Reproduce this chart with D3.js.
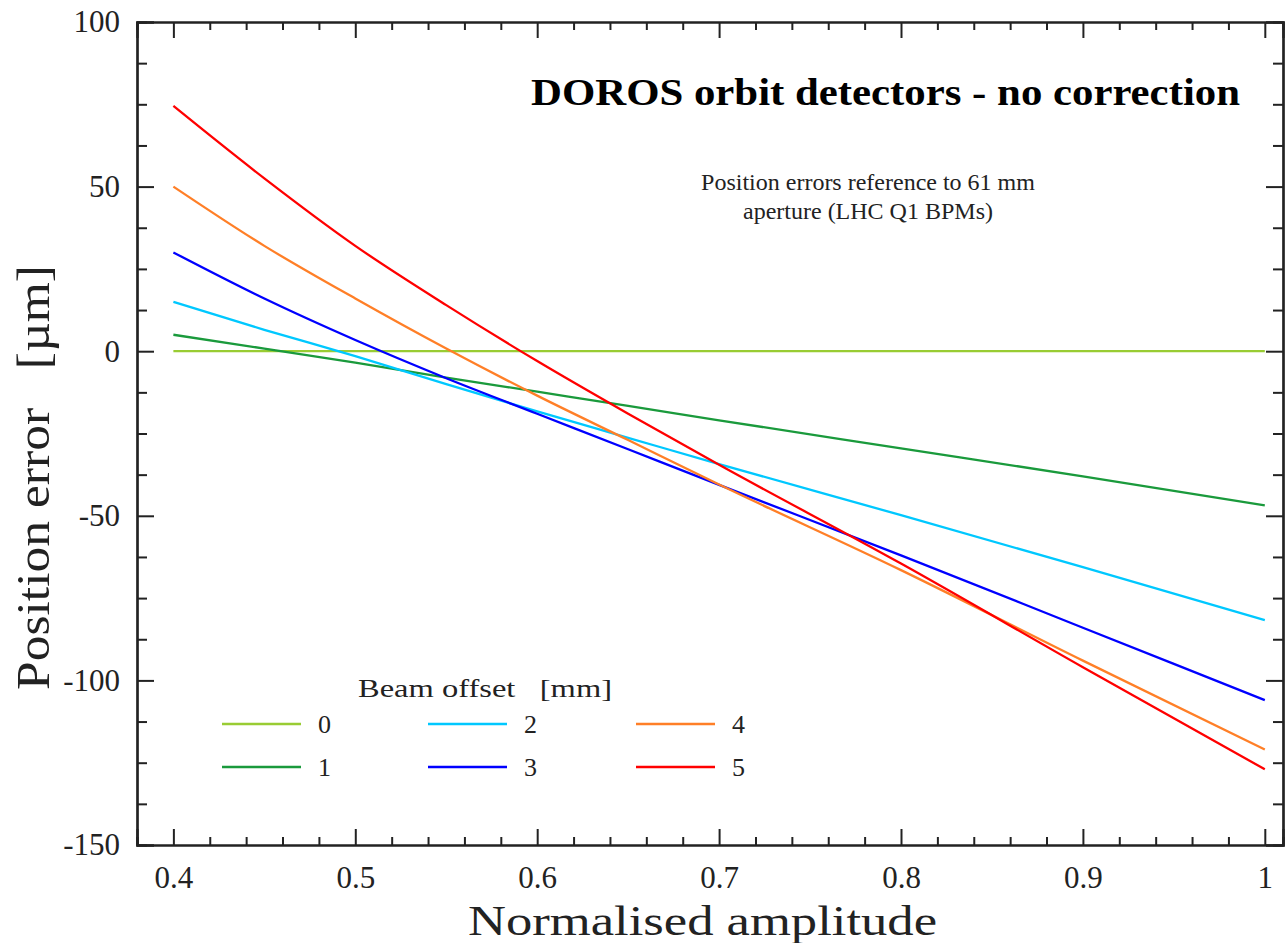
<!DOCTYPE html>
<html>
<head>
<meta charset="utf-8">
<script src="https://cdn.jsdelivr.net/npm/d3@7"></script>
<style>
  body { margin: 0; background: #fff; }
  text { font-family: "Liberation Serif", "Times New Roman", serif; fill: #222; white-space: pre; }
</style>
</head>
<body>
<div id="chart"></div>
<script>
// amplitude values (x) where the curves were read
const amplitude = [0.4, 0.45, 0.5, 0.55, 0.6, 0.65, 0.7, 0.8, 0.9, 1.0];

// position error [um] per beam offset [mm]
const offset0 = [0, 0, 0, 0, 0, 0, 0, 0, 0, 0];
const offset1 = [5, 0.8, -3.5, -8, -12.3, -16.6, -21, -29.5, -38, -46.8];
const offset2 = [15, 6.5, -1.5, -10, -18.3, -26.3, -34.3, -49.8, -65.6, -81.7];
const offset3 = [30, 16, 3.4, -8.2, -19, -29.8, -40.6, -62, -84, -106];
const offset4 = [50, 32, 16, 0.8, -13.5, -27, -40.5, -66.5, -94, -121];
const offset5 = [74.5, 52.5, 32, 14, -3, -19, -34.5, -64.5, -96, -127];

const offsetNames = ["0", "1", "2", "3", "4", "5"];
const offsetColors = ["#99cc33", "#1a9a3c", "#00c8ff", "#0000ff", "#ff7f27", "#ff0000"];
const allSeries = [offset0, offset1, offset2, offset3, offset4, offset5];

const xMajor = [0.4, 0.5, 0.6, 0.7, 0.8, 0.9, 1];
const yMajor = [-150, -100, -50, 0, 50, 100];

const width = 1288, height = 943;
const plotLeft = 137, plotRight = 1283, plotTop = 22, plotBottom = 845;

const svg = d3.select("#chart").append("svg")
  .attr("width", width)
  .attr("height", height);

const x = d3.scaleLinear().domain([0.38, 1.01]).range([plotLeft, plotRight]);
const y = d3.scaleLinear().domain([-150, 100]).range([plotBottom, plotTop]);

// minor tick values
const xMinor = d3.range(0.38, 1.0101, 0.02).map(v => +v.toFixed(2)).filter(v => !xMajor.includes(v));
const yMinor = d3.range(-150, 100.01, 12.5).filter(v => !yMajor.includes(v));

function styleAxis(g) {
  g.selectAll("path.domain").attr("stroke", "#222").attr("stroke-width", 2.2);
  g.selectAll(".tick line").attr("stroke", "#222").attr("stroke-width", 2);
  g.selectAll(".tick text")
    .attr("fill", "#222")
    .style("font-family", "Liberation Serif, serif")
    .style("font-size", "31px");
}

// bottom axis
const xAxisG = svg.append("g").attr("transform", `translate(0,${plotBottom})`)
  .call(d3.axisBottom(x).tickValues(xMajor).tickSize(-16)
    .tickFormat(d => d === 1 ? "1" : d3.format(".1f")(d)))
  .call(styleAxis);
xAxisG.selectAll(".tick text").attr("y", 43).attr("dy", null);
svg.append("g").attr("transform", `translate(0,${plotBottom})`)
  .call(d3.axisBottom(x).tickValues(xMinor).tickSize(-8).tickFormat(""))
  .call(styleAxis);

// top axis
svg.append("g").attr("transform", `translate(0,${plotTop})`)
  .call(d3.axisTop(x).tickValues(xMajor).tickSize(-16).tickFormat(""))
  .call(styleAxis);
svg.append("g").attr("transform", `translate(0,${plotTop})`)
  .call(d3.axisTop(x).tickValues(xMinor).tickSize(-8).tickFormat(""))
  .call(styleAxis);

// left axis
svg.append("g").attr("transform", `translate(${plotLeft},0)`)
  .call(d3.axisLeft(y).tickValues(yMajor).tickSize(-17).tickPadding(17)
    .tickFormat(d => String(d)))
  .call(styleAxis);
svg.append("g").attr("transform", `translate(${plotLeft},0)`)
  .call(d3.axisLeft(y).tickValues(yMinor).tickSize(-10).tickFormat(""))
  .call(styleAxis);

// right axis
svg.append("g").attr("transform", `translate(${plotRight},0)`)
  .call(d3.axisRight(y).tickValues(yMajor).tickSize(-17).tickFormat(""))
  .call(styleAxis);
svg.append("g").attr("transform", `translate(${plotRight},0)`)
  .call(d3.axisRight(y).tickValues(yMinor).tickSize(-10).tickFormat(""))
  .call(styleAxis);

// curves
const line = d3.line()
  .x((d, i) => x(amplitude[i]))
  .y(d => y(d))
  .curve(d3.curveMonotoneX);

svg.append("g").selectAll("path")
  .data(allSeries)
  .join("path")
  .attr("fill", "none")
  .attr("stroke", (d, i) => offsetColors[i])
  .attr("stroke-width", 2.3)
  .attr("d", line);

// titles
svg.append("text")
  .attr("x", 531).attr("y", 105)
  .attr("textLength", 709).attr("lengthAdjust", "spacingAndGlyphs")
  .style("font-size", "37px").style("font-weight", "bold")
  .style("fill", "#000")
  .text("DOROS orbit detectors - no correction");

svg.append("text")
  .attr("x", 868).attr("y", 190)
  .attr("text-anchor", "middle")
  .style("font-size", "24px")
  .text("Position errors reference to 61 mm");
svg.append("text")
  .attr("x", 868).attr("y", 219)
  .attr("text-anchor", "middle")
  .style("font-size", "24px")
  .text("aperture (LHC Q1 BPMs)");

// axis titles
svg.append("text")
  .attr("x", 468).attr("y", 935)
  .attr("textLength", 469).attr("lengthAdjust", "spacingAndGlyphs")
  .style("font-size", "42px")
  .text("Normalised amplitude");

svg.append("text")
  .attr("transform", "translate(49,690) rotate(-90)")
  .attr("textLength", 425).attr("lengthAdjust", "spacingAndGlyphs")
  .style("font-size", "46px")
  .text("Position error   [\u00b5m]");

// legend
svg.append("text")
  .attr("x", 358).attr("y", 697)
  .attr("textLength", 254).attr("lengthAdjust", "spacingAndGlyphs")
  .style("font-size", "26px")
  .text("Beam offset   [mm]");

const legendCol = [222, 428, 636];
const legendRow = [724, 767];
const legend = svg.append("g").selectAll("g")
  .data(offsetNames)
  .join("g")
  .attr("transform", (d, i) => `translate(${legendCol[Math.floor(i / 2)]},${legendRow[i % 2]})`);
legend.append("line")
  .attr("x1", 0).attr("x2", 79)
  .attr("stroke", (d, i) => offsetColors[i])
  .attr("stroke-width", 2.3);
legend.append("text")
  .attr("x", 96).attr("y", 9)
  .style("font-size", "26px")
  .text(d => d);
</script>
</body>
</html>
